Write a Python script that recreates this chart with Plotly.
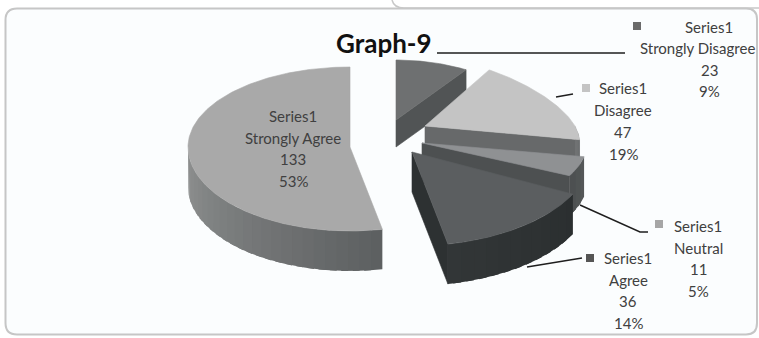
import math
import plotly.graph_objects as go

# ---- data ----
categories = ["Strongly Disagree", "Disagree", "Neutral", "Agree", "Strongly Agree"]
counts = [23, 47, 11, 36, 133]
percent_labels = [9, 19, 5, 14, 53]
series_name = "Series1"
title_text = "Graph-9"

W, H = 759, 338

# ---- per-slice drawing geometry (pixels): apex, radii, thickness, far-side taper ----
geometry = {
    "Strongly Disagree": dict(ax=396, ay=120, rx=140, ry_far=60, ry_near=60, depth=27, taper=0.10),
    "Disagree":          dict(ax=425, ay=126, rx=150, ry_far=67, ry_near=73, depth=38, taper=0.26),
    "Neutral":           dict(ax=422, ay=143, rx=165, ry_far=70, ry_near=73, depth=40, taper=0.0),
    "Agree":             dict(ax=412, ay=152, rx=180, ry_far=80, ry_near=94, depth=40, taper=0.0),
    "Strongly Agree":    dict(ax=350, ay=147, rx=162, ry_far=80, ry_near=84, depth=40, taper=0.0),
}

# colours: top face, radial cut wall, rim wall (at start angle, at end angle)
styles = {
    "Strongly Disagree": dict(top="#6e7071", radial="#515455", rim=("#5a5d5e", "#5a5d5e")),
    "Disagree":          dict(top="#c4c4c4", radial="#67696a", rim=("#727475", "#6a6d6e")),
    "Neutral":           dict(top="#8f9193", radial="#4d5051", rim=("#56595a", "#4b4e4f")),
    "Agree":             dict(top="#5b5e60", radial="#2d3132", rim=("#2b2f30", "#323637")),
    "Strongly Agree":    dict(top="#a9a9a9", radial="#6a6c6d", rim=("#5c5f60", "#909292")),
}

# legend-key colours next to the outside labels
key_colors = {
    "Strongly Disagree": "#6a6a6a",
    "Disagree": "#c4c4c4",
    "Neutral": "#a6a6a6",
    "Agree": "#555555",
}

# label placement: key marker, text centre x, first-line y, line step
label_layout = {
    "Strongly Disagree": dict(key=(637, 26), cx=709, y0=27, step=21.3),
    "Disagree":          dict(key=(586, 88), cx=623, y0=88, step=22.0),
    "Neutral":           dict(key=(659, 224), cx=698, y0=226, step=21.7),
    "Agree":             dict(key=(590, 258), cx=628, y0=258, step=21.7),
    "Strongly Agree":    dict(key=None, cx=293, y0=116, step=21.7),
}

leaders = {
    "Strongly Disagree": [(437, 53), (625, 53)],
    "Disagree": [(556, 97), (573, 94)],
    "Neutral": [(580, 205), (640, 232), (648, 232)],
    "Agree": [(527, 267), (582, 258)],
}

TEXT_FONT = "Lato"
TEXT_COLOR = "#404040"
RIGHT_LIMIT = 757  # keep label lines inside the page


def rim_point(g, theta_deg, drop=0.0):
    t = math.radians(theta_deg)
    c, s = math.cos(t), math.sin(t)
    ry = g["ry_far"] if c > 0 else g["ry_near"]
    x = g["ax"] + g["rx"] * s * (1 - g["taper"] * c)
    y = g["ay"] - ry * c + drop
    return x, y


def mix(c1, c2, f):
    a = [int(c1[i:i + 2], 16) for i in (1, 3, 5)]
    b = [int(c2[i:i + 2], 16) for i in (1, 3, 5)]
    return "#" + "".join(f"{round(a[i] + (b[i] - a[i]) * f):02x}" for i in range(3))


def arc(t1, t2, n):
    return [t1 + (t2 - t1) * k / n for k in range(n + 1)]


fig = go.Figure()


def add_poly(pts, color, edge=0.6):
    xs = [p[0] for p in pts] + [pts[0][0]]
    ys = [p[1] for p in pts] + [pts[0][1]]
    fig.add_trace(go.Scatter(
        x=xs, y=ys, mode="lines", fill="toself", fillcolor=color,
        line=dict(color=color, width=edge), hoverinfo="skip", showlegend=False,
    ))


# slice angles, clockwise from 12 o'clock
total = sum(counts)
angles = {}
acc = 0
for cat, v in zip(categories, counts):
    a1 = acc / total * 360
    acc += v
    a2 = acc / total * 360
    angles[cat] = (a1, a2)

# back-to-front drawing order
for cat in ["Strongly Disagree", "Disagree", "Neutral", "Agree", "Strongly Agree"]:
    g, st = geometry[cat], styles[cat]
    a1, a2 = angles[cat]
    d = g["depth"]
    apex = (g["ax"], g["ay"])
    apex_low = (g["ax"], g["ay"] + d)

    # radial cut walls facing the viewer
    if math.sin(math.radians(a1)) < -1e-6:
        p, q = rim_point(g, a1), rim_point(g, a1, d)
        add_poly([apex, p, q, apex_low], st["radial"])
    if math.sin(math.radians(a2)) > 1e-6:
        p, q = rim_point(g, a2), rim_point(g, a2, d)
        add_poly([apex, p, q, apex_low], st["radial"])

    # outer rim wall on the front half, shaded along its length;
    # each band overlaps the next one so no seams show
    lo, hi = max(a1, 90.0), min(a2, 270.0)
    if hi > lo:
        nseg = max(2, int((hi - lo) / 4))
        ts = arc(lo, hi, nseg)
        step = (hi - lo) / nseg
        for k in range(nseg):
            t1 = ts[k]
            t2 = min(hi, ts[k + 1] + 0.6 * step)
            f = (k + 0.5) / nseg
            col = mix(st["rim"][0], st["rim"][1], f)
            sub = arc(t1, t2, 4)
            top = [rim_point(g, t) for t in sub]
            bot = [rim_point(g, t, d) for t in reversed(sub)]
            add_poly(top + bot, col, edge=0)

    # top face
    face = [apex] + [rim_point(g, t) for t in arc(a1, a2, max(8, int(a2 - a1)))]
    add_poly(face, st["top"])

# leader lines
for cat, pts in leaders.items():
    fig.add_trace(go.Scatter(
        x=[p[0] for p in pts], y=[p[1] for p in pts], mode="lines",
        line=dict(color="#1e1e1e", width=1.4), hoverinfo="skip", showlegend=False,
    ))

# legend keys beside outside labels
for cat, col in key_colors.items():
    kx, ky = label_layout[cat]["key"]
    fig.add_trace(go.Scatter(
        x=[kx], y=[ky], mode="markers",
        marker=dict(symbol="square", size=8, color=col, line=dict(width=0)),
        hoverinfo="skip", showlegend=False,
    ))

annotations = []
for cat, v, pct in zip(categories, counts, percent_labels):
    lay = label_layout[cat]
    lines = [series_name, cat, str(v), f"{pct}%"]
    for i, txt in enumerate(lines):
        # long lines near the right edge are pinned to the page edge
        est_w = 7.0 * len(txt)
        if lay["cx"] + est_w / 2 > RIGHT_LIMIT:
            x, anchor = RIGHT_LIMIT, "right"
        else:
            x, anchor = lay["cx"], "center"
        annotations.append(dict(
            x=x, y=lay["y0"] + i * lay["step"], xref="x", yref="y",
            text=txt, showarrow=False, xanchor=anchor, yanchor="middle",
            font=dict(family=TEXT_FONT, size=15, color=TEXT_COLOR),
        ))

annotations.append(dict(
    x=384, y=43, xref="x", yref="y", text=f"<b>{title_text}</b>", showarrow=False,
    xanchor="center", yanchor="middle",
    font=dict(family=TEXT_FONT, size=26, color="#111111"),
))

shapes = [
    # chart area frame
    dict(type="path", xref="x", yref="y", layer="below",
         path="M 5.5,20 Q 5.5,8.5 17,8.5 L 746,8.5 Q 757,8.5 757,19 L 757,323 "
              "Q 757,334.5 746,334.5 L 17,334.5 Q 5.5,334.5 5.5,323 Z",
         line=dict(color="#c6c6c6", width=2), fillcolor="#fbfdfe"),
    # lower corner of the neighbouring frame above
    dict(type="path", xref="x", yref="y", layer="below",
         path="M 392,0 Q 394,8 404,8 L 759,8",
         line=dict(color="#c8c8c8", width=1.5)),
]

fig.update_layout(
    width=W, height=H,
    margin=dict(l=0, r=0, t=0, b=0),
    paper_bgcolor="#ffffff", plot_bgcolor="#ffffff",
    xaxis=dict(range=[0, W], visible=False, fixedrange=True),
    yaxis=dict(range=[H, 0], visible=False, fixedrange=True),
    annotations=annotations, shapes=shapes,
    showlegend=False,
)

fig.write_html("out.html")
